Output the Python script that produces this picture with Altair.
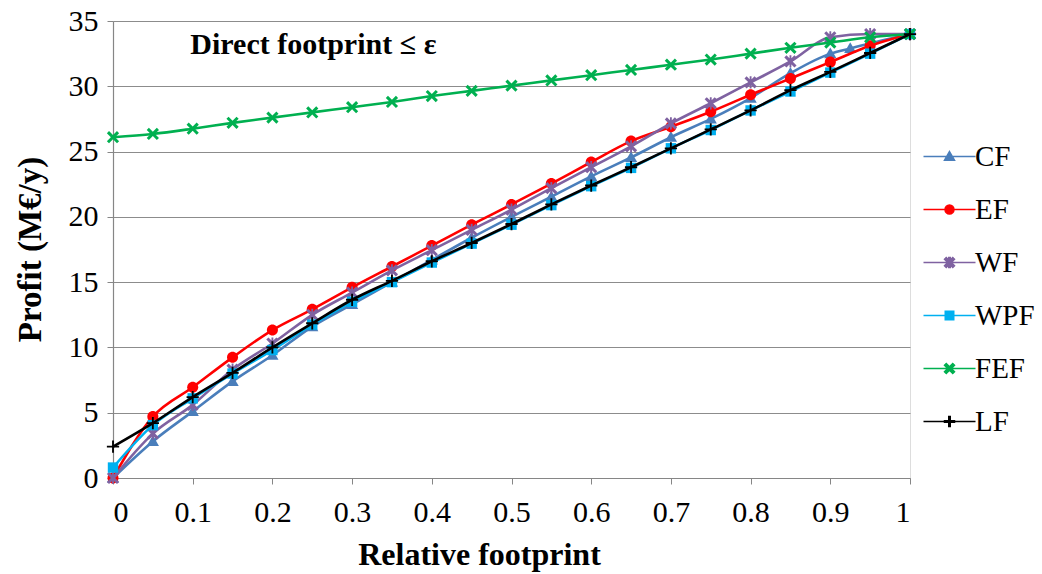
import altair as alt
import pandas as pd

series_names = ["CF", "EF", "WF", "WPF", "FEF", "LF"]
colors = ["#4A7EBB", "#FF0000", "#7F62A1", "#00B0F0", "#00B050", "#000000"]

x_std = [0, 0.05, 0.1, 0.15, 0.2, 0.25, 0.3, 0.35, 0.4, 0.45, 0.5,
         0.55, 0.6, 0.65, 0.7, 0.75, 0.8, 0.85, 0.9, 0.95, 1]
x_cf = [0, 0.05, 0.1, 0.15, 0.2, 0.25, 0.3, 0.35, 0.4, 0.45, 0.5,
        0.55, 0.6, 0.65, 0.7, 0.75, 0.8, 0.85, 0.9, 0.925, 1]

cf = [0, 2.8, 5.1, 7.4, 9.4, 11.6, 13.3, 15.0, 16.7, 18.4, 20.0,
      21.55, 23.1, 24.55, 26.1, 27.5, 29.1, 31.0, 32.5, 32.9, 34.0]
ef = [0, 4.7, 6.95, 9.24, 11.33, 12.92, 14.6, 16.2, 17.8, 19.4, 20.95,
      22.55, 24.2, 25.8, 26.9, 28.05, 29.35, 30.6, 31.85, 33.1, 34.0]
wf = [0, 3.4, 5.6, 8.3, 10.3, 12.5, 14.2, 15.9, 17.45, 19.0, 20.55,
      22.2, 23.8, 25.4, 27.15, 28.7, 30.3, 31.9, 33.75, 34.0, 34.0]
wpf = [0.8, 4.05, 6.1, 8.0, 9.8, 11.75, 13.5, 15.0, 16.5, 17.95, 19.4,
       20.9, 22.35, 23.75, 25.25, 26.65, 28.15, 29.6, 31.05, 32.5, 34.0]
fef = [26.1, 26.35, 26.75, 27.2, 27.6, 28.0, 28.4, 28.8, 29.25, 29.65, 30.05,
       30.45, 30.85, 31.25, 31.65, 32.05, 32.5, 32.95, 33.35, 33.75, 34.0]
lf = [2.4, 4.2, 6.2, 8.05, 10.0, 11.85, 13.65, 15.1, 16.6, 18.0, 19.45,
      20.95, 22.4, 23.8, 25.25, 26.7, 28.15, 29.7, 31.1, 32.55, 34.0]

x_ticks = [0, 0.1, 0.2, 0.3, 0.4, 0.5, 0.6, 0.7, 0.8, 0.9, 1]
y_ticks = [0, 5, 10, 15, 20, 25, 30, 35]

annotation = ["Direct footprint \u2264 \u03b5"]
annotation_x = [0.097]
annotation_y = [33.2]

# marker shapes (paths in a -1..1 box)
TRI = "M0,-1 L1,0.75 L-1,0.75 Z"
CIRC = "M0.9,0 A0.9,0.9 0 1,1 -0.9,0 A0.9,0.9 0 1,1 0.9,0 Z"
XS = ("M-1,-0.65 L-0.65,-1 L0,-0.35 L0.65,-1 L1,-0.65 L0.35,0 L1,0.65 "
      "L0.65,1 L0,0.35 L-0.65,1 L-1,0.65 L-0.35,0 Z")
STAR = XS + " M-0.15,-1 L0.15,-1 L0.15,1 L-0.15,1 Z"
SQR = "M-0.85,-0.85 L0.85,-0.85 L0.85,0.85 L-0.85,0.85 Z"
PLUS = ("M-1,-0.15 L-0.15,-0.15 L-0.15,-1 L0.15,-1 L0.15,-0.15 L1,-0.15 "
        "L1,0.15 L0.15,0.15 L0.15,1 L-0.15,1 L-0.15,0.15 L-1,0.15 Z")
shapes = [TRI, CIRC, STAR, SQR, XS, PLUS]
LEG_LINE = " M-5.2,0 L5.2,0"
legend_shapes = [s + LEG_LINE for s in shapes]

xs_list = [x_cf, x_std, x_std, x_std, x_std, x_std]
ys_list = [cf, ef, wf, wpf, fef, lf]
rows = []
for name, xs, ys in zip(series_names, xs_list, ys_list):
    for xv, yv in zip(xs, ys):
        rows.append({"series": name, "x": xv, "y": yv})
df = pd.DataFrame(rows)

FONT = "Liberation Serif"

x_enc = alt.X(
    "x:Q",
    scale=alt.Scale(domain=[0, 1], nice=False),
    axis=alt.Axis(
        values=x_ticks, format="~g", grid=False, title="Relative footprint",
        labelFont=FONT, labelFontSize=30, labelColor="#000000",
        labelPadding=13, tickSize=6, tickColor="#868686",
        domainColor="#868686", domainWidth=1.2,
        titleFont=FONT, titleFontSize=32, titleFontWeight="bold",
        titleColor="#000000", titleX=366, titleY=76,
        titleAlign="center", titleBaseline="middle",
    ),
)
y_enc = alt.Y(
    "y:Q",
    scale=alt.Scale(domain=[0, 35], nice=False),
    axis=alt.Axis(
        values=y_ticks, grid=True, gridColor="#8C8C8C", gridWidth=1.2,
        title="Profit (M\u20ac/y)",
        labelFont=FONT, labelFontSize=30, labelColor="#000000",
        labelPadding=9, tickSize=6, tickColor="#868686",
        domainColor="#868686", domainWidth=1.2,
        titleFont=FONT, titleFontSize=33, titleFontWeight="bold",
        titleColor="#000000", titleX=-83, titleY=228,
        titleAlign="center", titleBaseline="middle", titleAngle=270,
    ),
)

layers = []
for name, shp, col in zip(series_names, shapes, colors):
    base = alt.Chart(df).transform_filter(alt.datum.series == name)
    line = base.mark_line(strokeWidth=2.6, interpolate="monotone", color=col).encode(
        x=x_enc, y=y_enc, detail="series:N",
    )
    pts = base.mark_point(shape=shp, filled=True, size=150, opacity=1, color=col).encode(
        x=x_enc, y=y_enc, detail="series:N",
    )
    layers += [line, pts]

leg = alt.Legend(
    title=None, orient="none", legendX=822, legendY=121,
    labelFont=FONT, labelFontSize=29, labelColor="#000000",
    labelOffset=11, rowPadding=23, symbolSize=100,
)
legend_layer = alt.Chart(df).transform_filter("false").mark_point(
    filled=True, strokeWidth=2.6, opacity=1
).encode(
    x=x_enc, y=y_enc,
    fill=alt.Fill("series:N", scale=alt.Scale(domain=series_names, range=colors), legend=leg),
    stroke=alt.Stroke("series:N", scale=alt.Scale(domain=series_names, range=colors), legend=leg),
    shape=alt.Shape("series:N", scale=alt.Scale(domain=series_names, range=legend_shapes), legend=leg),
)

ann_df = pd.DataFrame({"text": annotation, "x": annotation_x, "y": annotation_y})
ann = alt.Chart(ann_df).mark_text(
    font=FONT, fontSize=30, fontWeight="bold", align="left", baseline="middle",
    color="#000000",
).encode(x=alt.X("x:Q"), y=alt.Y("y:Q"), text="text:N")

chart = alt.layer(*layers, legend_layer, ann).properties(
    width=797, height=457,
    autosize=alt.AutoSizeParams(type="none"),
    padding={"left": 113, "top": 21, "right": 132, "bottom": 96},
).configure_view(stroke=None).configure(background="white")

chart.save("out.html", embed_options={"renderer": "svg", "actions": False})
